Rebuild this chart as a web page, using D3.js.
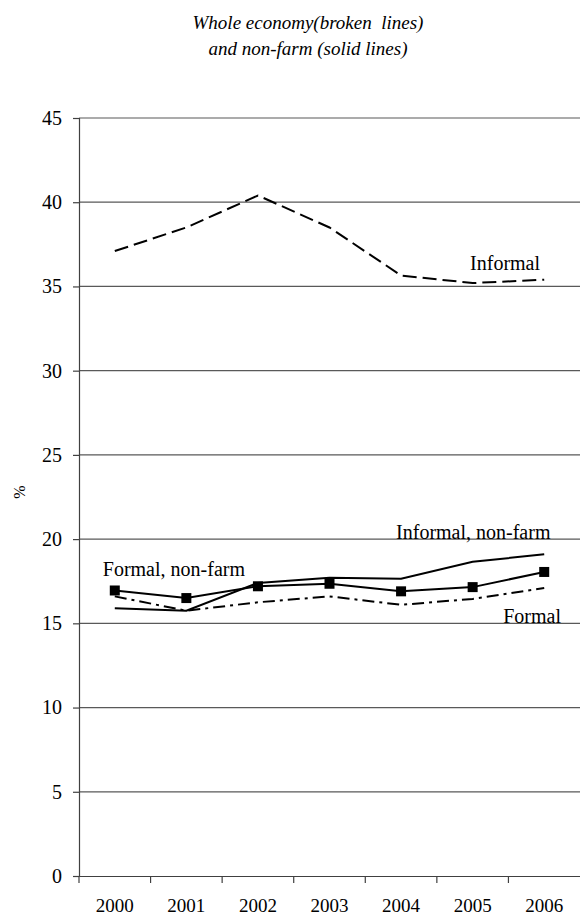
<!DOCTYPE html>
<html><head><meta charset="utf-8">
<script src="https://cdn.jsdelivr.net/npm/d3@7"></script>
<style>
html,body{margin:0;padding:0;background:#fff;}
svg text{font-family:"Liberation Serif","Times New Roman",serif;fill:#000;}
</style></head>
<body><svg id="c" width="580" height="918"></svg>
<script>
const years = ["2000","2001","2002","2003","2004","2005","2006"];
const informal = [37.1, 38.5, 40.4, 38.5, 35.65, 35.2, 35.4];
const informalNonFarm = [15.9, 15.75, 17.4, 17.7, 17.65, 18.65, 19.1];
const formalNonFarm = [16.95, 16.5, 17.2, 17.35, 16.9, 17.15, 18.05];
const formal = [16.6, 15.75, 16.25, 16.6, 16.1, 16.45, 17.1];
const yTicks = [0,5,10,15,20,25,30,35,40,45];
const titleLines = ["Whole economy(broken  lines)", "and non-farm (solid lines)"];

const svg = d3.select("#c");
const x = d3.scaleBand().domain(years).range([79, 580]).padding(0);
const y = d3.scaleLinear().domain([0,45]).range([876,118]);
const cx = d => x(d) + x.bandwidth()/2;

// title
svg.append("g").selectAll("text").data(titleLines).join("text")
  .attr("x", 308).attr("y", (d,i)=>29 + i*26)
  .attr("text-anchor","middle").attr("font-style","italic").attr("font-size", 19)
  .attr("xml:space","preserve")
  .style("white-space","pre")
  .text(d=>d);

// gridlines
svg.append("g").selectAll("line").data(yTicks.filter(t=>t>0)).join("line")
  .attr("x1", 79).attr("x2", 580).attr("y1", d=>y(d)).attr("y2", d=>y(d))
  .attr("stroke","#595959").attr("stroke-width",1.2);

// y axis
const yAxis = d3.axisLeft(y).tickValues(yTicks).tickSize(6).tickPadding(11).tickFormat(d3.format("d"));
const gy = svg.append("g").attr("transform","translate(79,0)").call(yAxis);
gy.select(".domain").attr("stroke","#404040").attr("stroke-width",1.2);
gy.selectAll(".tick line").attr("stroke","#404040").attr("stroke-width",1.2);
gy.selectAll(".tick text").attr("font-size",20).attr("font-family","Liberation Serif").attr("fill","#000");

// x axis
const xAxis = d3.axisBottom(x).tickValues([]).tickSizeOuter(0);
const gx = svg.append("g").attr("transform","translate(0,876)").call(xAxis);
gx.select(".domain").attr("stroke","#404040").attr("stroke-width",1.2);
// tick marks at band boundaries
svg.append("g").selectAll("line").data(years).join("line")
  .attr("x1", d=>x(d)).attr("x2", d=>x(d)).attr("y1", 876).attr("y2", 883)
  .attr("stroke","#404040").attr("stroke-width",1.2);
svg.append("g").selectAll("text").data(years).join("text")
  .attr("x", d=>cx(d)).attr("y", 912).attr("text-anchor","middle").attr("font-size",19)
  .text(d=>d);

// y label
svg.append("text").attr("transform","translate(25,492) rotate(-90)")
  .attr("text-anchor","middle").attr("font-size",16).text("%");

const line = d3.line().x((d,i)=>cx(years[i])).y(d=>y(d));

function addLine(data, dash){
  svg.append("path").datum(data).attr("d", line).attr("fill","none")
    .attr("stroke","#000").attr("stroke-width",2)
    .attr("stroke-dasharray", dash || null);
}
addLine(informal, "14,6");
addLine(formal, "12,5,3,5");
addLine(informalNonFarm);
addLine(formalNonFarm);

svg.append("g").selectAll("rect").data(formalNonFarm).join("rect")
  .attr("x",(d,i)=>cx(years[i])-5).attr("y", d=>y(d)-5)
  .attr("width",10).attr("height",10).attr("fill","#000");

// series labels
const labels = [
  {t:"Informal", yr:"2004", v:informal[4], dx:69, dy:-5},
  {t:"Informal, non-farm", yr:"2004", v:informalNonFarm[4], dx:-5, dy:-40},
  {t:"Formal, non-farm", yr:"2000", v:formalNonFarm[0], dx:-12, dy:-14},
  {t:"Formal", yr:"2006", v:formal[6], dx:-41, dy:35}
];
svg.append("g").selectAll("text").data(labels).join("text")
  .attr("x", d=>cx(d.yr)+d.dx).attr("y", d=>y(d.v)+d.dy)
  .attr("font-size",20).text(d=>d.t);
</script></body></html>
